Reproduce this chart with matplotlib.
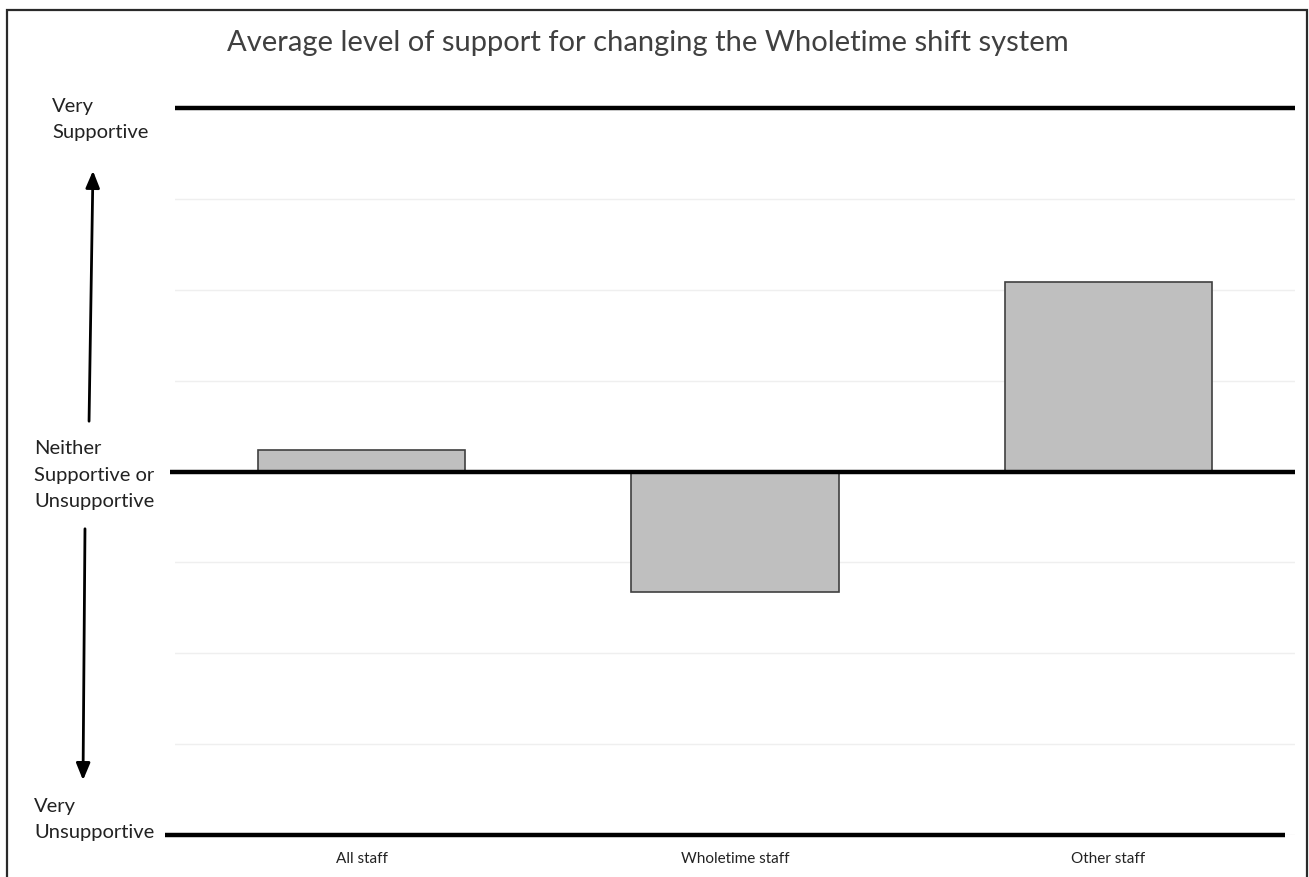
import numpy as np
import matplotlib.pyplot as plt
from matplotlib.patches import Rectangle, FancyArrowPatch

# average support score per staff group, on a -4 (very unsupportive) .. +4 (very supportive) scale
groups = ["All staff", "Wholetime staff", "Other staff"]
support = [0.24, -1.33, 2.08]
scale_min, scale_max = -4, 4

W, H = 1309, 877
fig = plt.figure(figsize=(W / 100, H / 100), dpi=100)
plt.rcParams['font.family'] = ['Lato', 'DejaVu Sans']

def fx(x):
    return x / W

def fy(y):
    return 1 - y / H

# outer frame (bottom edge runs off the page)
fig.patches.append(Rectangle((fx(7), fy(890)), fx(1307) - fx(7), fy(10) - fy(890),
                             transform=fig.transFigure, fill=False,
                             edgecolor='#2a2a2a', linewidth=1.6))

ax = fig.add_axes([fx(175), fy(835), fx(1295) - fx(175), fy(108) - fy(835)])
x = np.arange(len(groups))
ax.bar(x, support, width=0.555, color='#bfbfbf', edgecolor='#404040', linewidth=1.2, zorder=3)
ax.set_xlim(-0.5, len(groups) - 0.5)
ax.set_ylim(scale_min, scale_max)
ax.set_yticks(np.arange(scale_min, scale_max + 1))
ax.yaxis.grid(True, color='#efefef', linewidth=1)
ax.set_axisbelow(True)
ax.tick_params(axis='y', left=False, labelleft=False)
ax.tick_params(axis='x', bottom=False, pad=9, labelsize=11, labelcolor='#222222')
ax.set_xticks(x)
ax.set_xticklabels(groups)
for s in ax.spines.values():
    s.set_visible(False)

# thick reference lines: top, neutral and bottom of the scale
ax.plot([0, 1], [1, 1], transform=ax.transAxes, color='black', lw=3.2,
        clip_on=False, zorder=4, solid_capstyle='butt')
ax.plot([-5 / 1120, 1], [0.5, 0.5], transform=ax.transAxes, color='black', lw=3.2,
        clip_on=False, zorder=4, solid_capstyle='butt')
ax.plot([-10 / 1120, 1 - 10 / 1120], [0, 0], transform=ax.transAxes, color='black', lw=3.2,
        clip_on=False, zorder=4, solid_capstyle='butt')

fig.text(fx(648), fy(43), "Average level of support for changing the Wholetime shift system",
         ha='center', va='center', fontsize=21, color='#404040')

label_kw = dict(ha='left', fontsize=14.5, color='#222222', linespacing=1.65)
fig.text(fx(52), fy(98), "Very\nSupportive", va='top', **label_kw)
fig.text(fx(34), fy(475), "Neither\nSupportive or\nUnsupportive", va='center', **label_kw)
fig.text(fx(34), fy(798), "Very\nUnsupportive", va='top', **label_kw)

# direction arrows
arrow_kw = dict(transform=fig.transFigure, mutation_scale=12,
                arrowstyle='-|>,head_length=0.85,head_width=0.35', color='black', lw=2)
fig.add_artist(FancyArrowPatch((fx(89), fy(424)), (fx(93), fy(168)), **arrow_kw))
fig.add_artist(FancyArrowPatch((fx(85), fy(526)), (fx(83), fy(783)), **arrow_kw))

fig.savefig("out.png", dpi=100)
